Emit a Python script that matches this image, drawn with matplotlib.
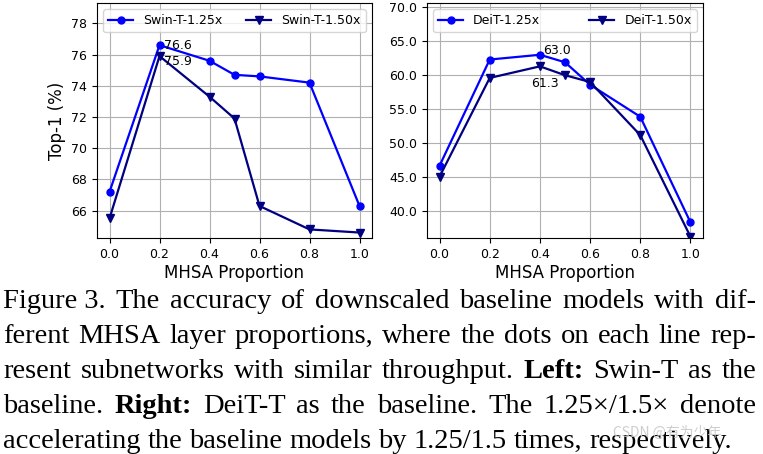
import matplotlib
matplotlib.use("Agg")
import matplotlib.pyplot as plt

# data
props = [0.0, 0.2, 0.4, 0.5, 0.6, 0.8, 1.0]
swin_125 = [67.2, 76.6, 75.6, 74.7, 74.6, 74.2, 66.3]
swin_150 = [65.5, 75.9, 73.3, 71.9, 66.3, 64.8, 64.6]
deit_125 = [46.7, 62.3, 63.0, 61.9, 58.6, 53.9, 38.4]
deit_150 = [45.1, 59.6, 61.3, 60.0, 59.0, 51.2, 36.3]

caption = [
    [("Figure 3.", False), ("The", False), ("accuracy", False), ("of", False), ("downscaled", False),
     ("baseline", False), ("models", False), ("with", False), ("dif-", False)],
    [("ferent", False), ("MHSA", False), ("layer", False), ("proportions,", False), ("where", False),
     ("the", False), ("dots", False), ("on", False), ("each", False), ("line", False), ("rep-", False)],
    [("resent", False), ("subnetworks", False), ("with", False), ("similar", False), ("throughput.", False),
     ("Left:", True), ("Swin-T", False), ("as", False), ("the", False)],
    [("baseline.", False), ("Right:", True), ("DeiT-T", False), ("as", False), ("the", False),
     ("baseline.", False), ("The", False), ("1.25×/1.5×", False), ("denote", False)],
    [("accelerating", False), ("the", False), ("baseline", False), ("models", False), ("by", False),
     ("1.25/1.5", False), ("times,", False), ("respectively.", False)],
]

W, H = 763, 454
fig = plt.figure(figsize=(W / 100, H / 100), dpi=100)
fig.patch.set_facecolor("white")

ax1 = fig.add_axes([97 / W, 1 - 238 / H, 275 / W, 235 / H])
ax2 = fig.add_axes([427 / W, 1 - 238 / H, 276 / W, 235 / H])

for ax, a, b, names in [(ax1, swin_125, swin_150, ["Swin-T-1.25x", "Swin-T-1.50x"]),
                        (ax2, deit_125, deit_150, ["DeiT-1.25x", "DeiT-1.50x"])]:
    ax.plot(props, a, color="blue", marker="o", lw=1.6, ms=5, label=names[0])
    ax.plot(props, b, color="navy", marker="v", lw=1.6, ms=5.5, label=names[1])
    ax.grid(True, color="#b0b0b0", lw=0.8)
    ax.set_axisbelow(True)
    ax.set_xticks([0.0, 0.2, 0.4, 0.6, 0.8, 1.0])
    ax.tick_params(labelsize=9)
    ax.set_xlabel("MHSA Proportion", fontsize=12, labelpad=2)
    ax.legend(loc="upper left", bbox_to_anchor=(0, 1, 1, 0), mode="expand", ncol=2,
              fontsize=9, handlelength=2.0, borderaxespad=0.5)

ax1.set_xlim(-0.05, 1.05)
ax1.set_ylim(64.25, 79.3)
ax1.set_yticks([66, 68, 70, 72, 74, 76, 78])
ax1.set_ylabel("Top-1 (%)", fontsize=12)

ax2.set_xlim(-0.05, 1.05)
ax2.set_ylim(36.1, 70.6)
ax2.set_yticks([40, 45, 50, 55, 60, 65, 70])
ax2.yaxis.set_major_formatter(matplotlib.ticker.FormatStrFormatter("%.1f"))

ax1.annotate("76.6", (0.2, 76.6), xytext=(3.5, 0), textcoords="offset points",
             ha="left", va="center", fontsize=9)
ax1.annotate("75.9", (0.2, 75.9), xytext=(3.5, -4), textcoords="offset points",
             ha="left", va="center", fontsize=9)
ax2.annotate("63.0", (0.4, 63.0), xytext=(2, 3), textcoords="offset points",
             ha="left", va="center", fontsize=9)
ax2.annotate("61.3", (0.4, 61.3), xytext=(3.5, -12), textcoords="offset points",
             ha="center", va="center", fontsize=9)

# caption, justified between x0 and x1
x0, x1 = 3, 756
baselines = [308, 343, 378, 413, 448]
fs = 20.5
renderer = fig.canvas.get_renderer()
for li, (words, yb) in enumerate(zip(caption, baselines)):
    texts = []
    widths = []
    for w, bold in words:
        t = fig.text(0, 1 - yb / H, w, fontsize=fs, family="Liberation Serif",
                     fontweight="bold" if bold else "normal", va="baseline", ha="left")
        texts.append(t)
        widths.append(t.get_window_extent(renderer).width)
    total = sum(widths)
    if li < len(caption) - 1:
        gap = (x1 - x0 - total) / (len(words) - 1)
    else:
        gap = 7.0
    x = x0
    for t, wd in zip(texts, widths):
        t.set_x(x / W)
        x += wd + gap

fig.text(613 / W, 1 - 433 / H, "CSDN @有为少年", fontsize=10, color="#c8c8c8", alpha=0.9,
         family=["Noto Sans CJK SC", "DejaVu Sans"], va="center", ha="left")

fig.savefig("out.png", dpi=100)
